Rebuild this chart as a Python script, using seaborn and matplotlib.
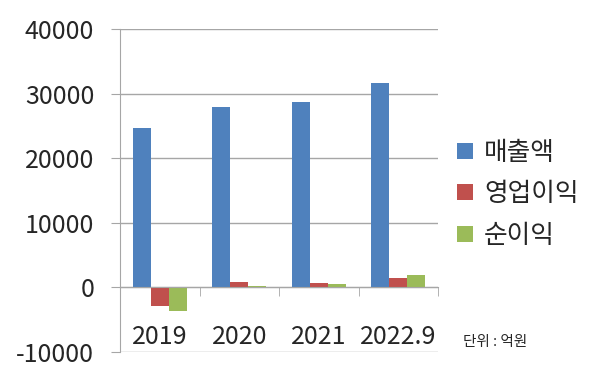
import matplotlib
matplotlib.use("Agg")
import matplotlib.pyplot as plt
import pandas as pd
import seaborn as sns

years = ["2019", "2020", "2021", "2022.9"]
series = ["매출액", "영업이익", "순이익"]
sales = [24650, 27850, 28730, 31630]
op_income = [-2900, 780, 670, 1400]
net_income = [-3600, 150, 470, 1860]
colors = ["#4F81BD", "#C0504D", "#9BBB59"]

df = pd.DataFrame({
    "year": years * 3,
    "item": [s for s in series for _ in years],
    "value": sales + op_income + net_income,
})

sns.set_style("white")
plt.rcParams["font.family"] = ["Noto Sans CJK KR", "DejaVu Sans"]
plt.rcParams["axes.unicode_minus"] = False

fig = plt.figure(figsize=(6, 3.81), dpi=100)
ax = fig.add_axes([0.2, 0.076, 0.53, 0.848])

sns.barplot(data=df, x="year", y="value", hue="item", hue_order=series,
            palette=colors, width=0.68, linewidth=0, saturation=1, ax=ax)

grid_c = "#A6A6A6"
ax.set_ylim(-10000, 40000)
ax.set_xlim(-0.5, 3.5)
ax.set_yticks(range(-10000, 40001, 10000))
ax.yaxis.grid(True, color=grid_c, linewidth=1)
ax.set_axisbelow(True)

for s in ["top", "right"]:
    ax.spines[s].set_visible(False)
ax.spines["left"].set_color(grid_c)
ax.spines["bottom"].set_position(("data", 0))
ax.spines["bottom"].set_color(grid_c)

ax.tick_params(axis="y", direction="out", length=6.5, color=grid_c,
               labelsize=18, pad=12, left=True)
ax.set_xticks([0.5, 1.5, 2.5, 3.5], minor=True)
ax.tick_params(axis="x", which="major", length=0, labelsize=18, pad=26)
ax.tick_params(axis="x", which="minor", direction="out", length=6.5,
               color=grid_c, bottom=True)
ax.set_xlabel("")
ax.set_ylabel("")

ax.legend(loc="center left", bbox_to_anchor=(0.762, 0.49),
          bbox_transform=fig.transFigure, frameon=False, fontsize=18.5,
          handlelength=0.6, handleheight=0.6, handletextpad=0.45,
          labelspacing=0.6, borderaxespad=0, borderpad=0)

fig.text(0.772, 1 - 342 / 381, "단위 : 억원", fontsize=10.5, va="center")

fig.savefig("out.png", dpi=100)
